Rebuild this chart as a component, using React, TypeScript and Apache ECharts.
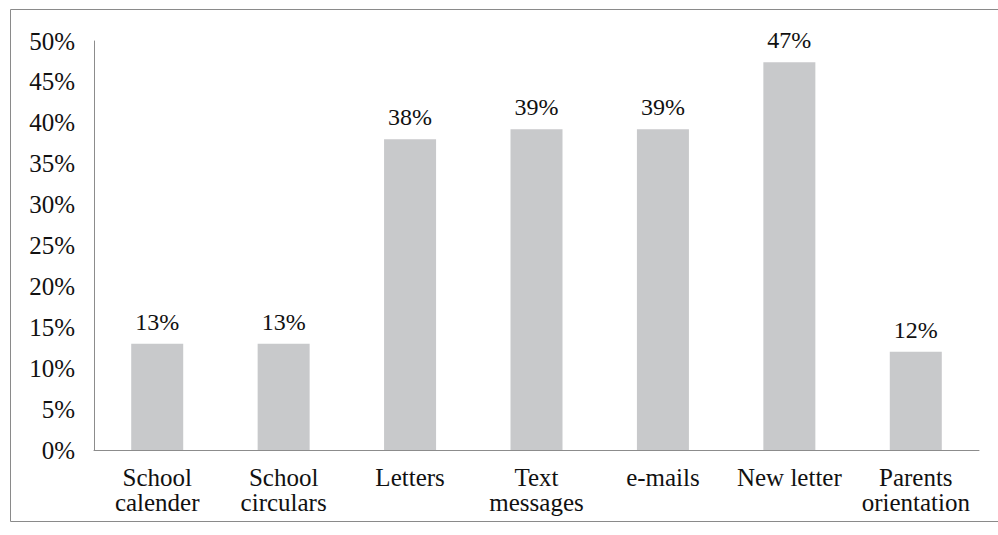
import React, { useEffect, useRef } from "react";
import * as echarts from "echarts";

const categories = [
  "School\ncalender",
  "School\ncirculars",
  "Letters",
  "Text\nmessages",
  "e-mails",
  "New letter",
  "Parents\norientation",
];
const values = [13, 13, 38, 39.2, 39.2, 47.4, 12];
const yTicks = [0, 5, 10, 15, 20, 25, 30, 35, 40, 45, 50];

const FONT = "Liberation Serif";

export default function App() {
  const ref = useRef<HTMLDivElement>(null);
  useEffect(() => {
    if (!ref.current) return;
    const chart = echarts.init(ref.current, null, { renderer: "svg" });
    chart.setOption({
      animation: false,
      backgroundColor: "#ffffff",
      textStyle: { fontFamily: FONT },
      graphic: [
        {
          type: "rect",
          shape: { x: 10.5, y: 9.5, width: 1000, height: 512 },
          style: { fill: "none", stroke: "#8a8a8a", lineWidth: 1 },
          silent: true,
        },
      ],
      grid: { left: 94, right: 19, top: 41, bottom: 85, containLabel: false },
      xAxis: {
        type: "category",
        data: categories,
        axisLine: { show: true, lineStyle: { color: "#8c8c8c", width: 1 } },
        axisTick: { show: false },
        axisLabel: {
          interval: 0,
          margin: 15,
          fontFamily: FONT,
          fontSize: 25,
          lineHeight: 25,
          color: "#111111",
        },
      },
      yAxis: {
        type: "value",
        min: yTicks[0],
        max: yTicks[yTicks.length - 1],
        interval: 5,
        axisLine: { show: true, lineStyle: { color: "#8c8c8c", width: 1 } },
        axisTick: { show: false },
        splitLine: { show: false },
        axisLabel: {
          margin: 19,
          fontFamily: FONT,
          fontSize: 25,
          color: "#111111",
          formatter: (v: number) => `${v}%`,
        },
      },
      series: [
        {
          type: "bar",
          data: values,
          barWidth: 52,
          itemStyle: { color: "#c8c9cb" },
          label: {
            show: true,
            position: "top",
            distance: 10,
            fontFamily: FONT,
            fontSize: 24,
            color: "#111111",
            formatter: (p: any) => `${Math.round(p.value)}%`,
          },
        },
      ],
    });
    return () => chart.dispose();
  }, []);
  return <div ref={ref} style={{ width: 998, height: 535, position: "absolute", left: 0, top: 0 }} />;
}
